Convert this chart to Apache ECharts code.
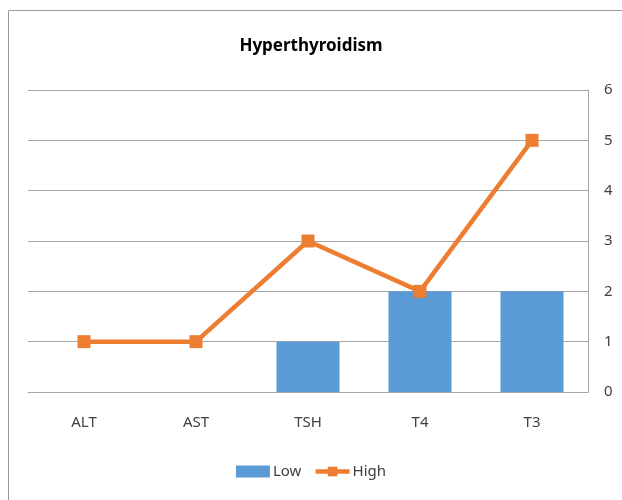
<!DOCTYPE html>
<html>
<head>
<meta charset="utf-8">
<style>
  html, body { margin: 0; padding: 0; background: #fff; }
  #chart { width: 622px; height: 500px; }
</style>
<script src="https://cdn.jsdelivr.net/npm/echarts@6/dist/echarts.min.js"></script>
</head>
<body>
<div id="chart"></div>
<script>
// Test categories and counts of abnormal results
const categories = ['ALT', 'AST', 'TSH', 'T4', 'T3'];
const lowValues = [0, 0, 1, 2, 2];
const highValues = [1, 1, 3, 2, 5];
const yTicks = [0, 1, 2, 3, 4, 5, 6];

const FONT = '"Noto Sans", "Open Sans", sans-serif';
const chart = echarts.init(document.getElementById('chart'), null, { renderer: 'canvas' });

chart.setOption({
  animation: false,
  backgroundColor: '#ffffff',
  title: {
    text: 'Hyperthyroidism',
    left: 'center',
    top: 33,
    textStyle: { fontFamily: FONT, fontSize: 17, fontWeight: 'bold', color: '#000' }
  },
  graphic: [{
    type: 'rect',
    shape: { x: 8.5, y: 10.5, width: 700, height: 600 },
    style: { fill: 'none', stroke: '#9a9a9a', lineWidth: 1 },
    silent: true
  }],
  legend: {
    bottom: 16,
    left: 'center',
    itemGap: 12,
    itemWidth: 34,
    itemHeight: 12,
    textStyle: { fontFamily: FONT, fontSize: 15, color: '#404040', padding: [0, 0, 0, -2] },
    data: [
      { name: 'Low', icon: 'rect', itemStyle: { color: '#5b9bd5' } },
      { name: 'High', lineStyle: { width: 4.5, color: '#ed7d31' } }
    ]
  },
  grid: { left: 28, right: 34, top: 90, bottom: 108 },
  xAxis: {
    type: 'category',
    data: categories,
    axisTick: { show: false },
    axisLine: { show: true, lineStyle: { color: '#a6a6a6' } },
    axisLabel: { fontFamily: FONT, fontSize: 15, color: '#404040', margin: 23 }
  },
  yAxis: {
    type: 'value',
    position: 'right',
    min: yTicks[0],
    max: yTicks[yTicks.length - 1],
    interval: 1,
    axisLine: { show: true, lineStyle: { color: '#a6a6a6' } },
    axisTick: { show: false },
    splitLine: { lineStyle: { color: '#a6a6a6' } },
    axisLabel: { fontFamily: FONT, fontSize: 15, color: '#404040', margin: 16 }
  },
  series: [
    {
      name: 'Low',
      type: 'bar',
      data: lowValues,
      barWidth: 63,
      itemStyle: { color: '#5b9bd5' }
    },
    {
      name: 'High',
      type: 'line',
      data: highValues,
      symbol: 'rect',
      symbolSize: 13,
      lineStyle: { color: '#ed7d31', width: 4.5 },
      itemStyle: { color: '#ed7d31' }
    }
  ]
});
</script>
</body>
</html>
